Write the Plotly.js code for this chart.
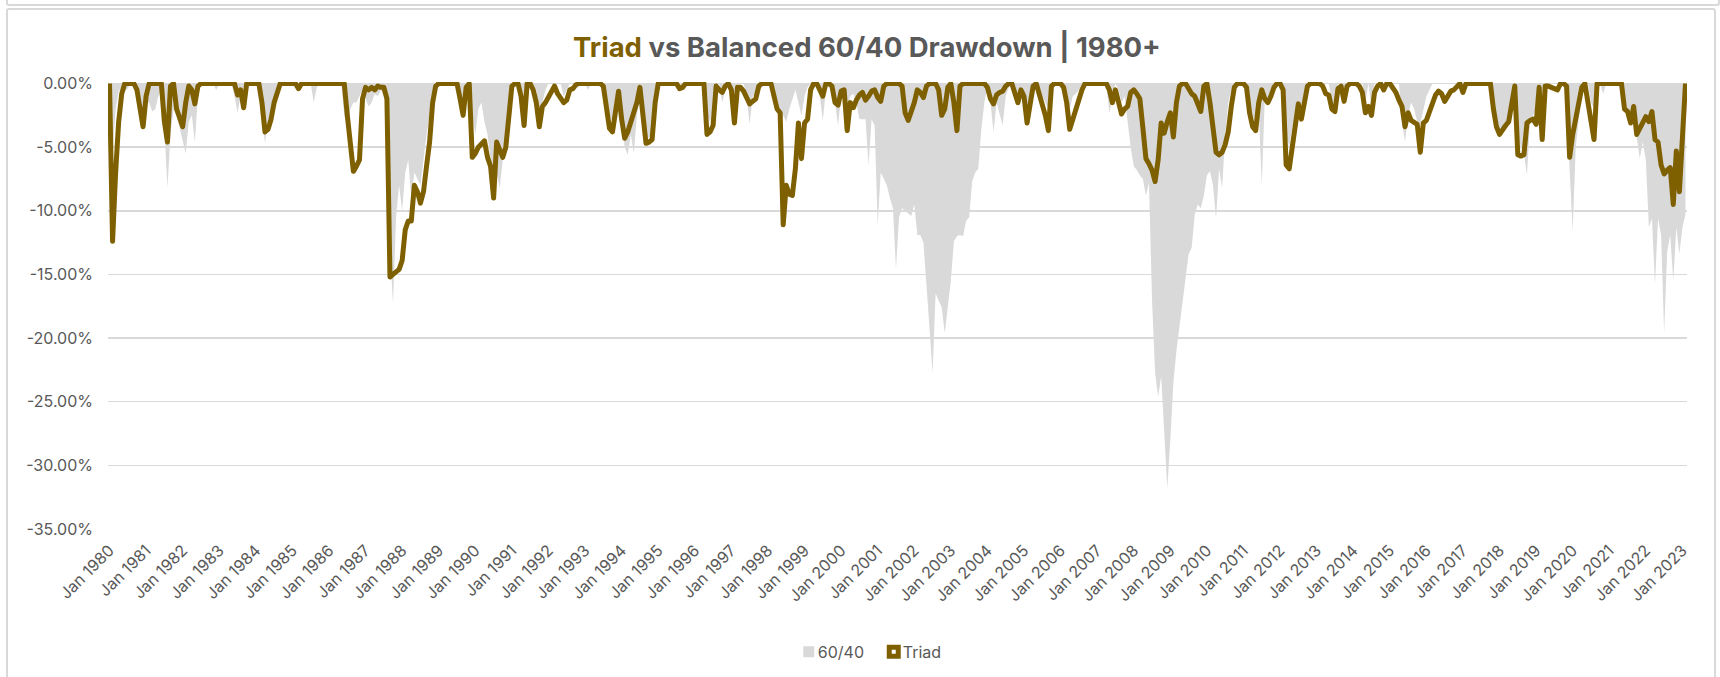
<!DOCTYPE html>
<html>
<head>
<meta charset="utf-8">
<script src="https://cdn.plot.ly/plotly-3.0.1.min.js"></script>
<style>
  html, body { margin: 0; padding: 0; background: #fff; overflow: hidden; }
  #chart { position: absolute; left: 0; top: 0; width: 1720px; height: 677px; }
  .frame { position: absolute; border: 2px solid #d9d9d9; border-radius: 3px; pointer-events: none; z-index: 5; }
  path.js-line { stroke-linejoin: round !important; }
  .legend .legendtext { transform: translate(-11px, 0); }
</style>
</head>
<body>
<div id="chart"></div>
<div class="frame" style="left:6px; top:-20px; width:1710px; height:22px;"></div>
<div class="frame" style="left:6px; top:8px; width:1706px; height:700px;"></div>
<script>
// Monthly drawdown from prior peak, in %, Jan 1980 - Feb 2023
var triad = [
  0, -12.4, -7.0, -3.0, -0.8, 0, 0, 0, 0, -0.5, -2.3, -3.4,          // 1980
  -1.0, 0, 0, 0, 0, 0, -3.0, -4.6, -0.2, 0, -2.0, -2.6,              // 1981
  -3.4, -1.5, -0.2, -0.5, -1.6, -0.2, 0, 0, 0, 0, 0, 0,              // 1982
  0, 0, 0, 0, 0, 0, -0.9, -0.5, -1.9, 0, 0, 0,                        // 1983
  0, 0, -1.5, -3.8, -3.6, -2.8, -1.5, -0.6, 0, 0, 0, 0,              // 1984
  0, 0, -0.4, 0, 0, 0, 0, 0, 0, 0, 0, 0,                              // 1985
  0, 0, 0, 0, 0, 0, -2.5, -4.8, -6.9, -6.5, -6.0, -1.2,              // 1986
  -0.3, -0.5, -0.3, -0.5, -0.2, -0.3, -0.3, -1.2, -15.2, -15.0, -14.8, -14.6, // 1987
  -13.9, -11.5, -10.8, -10.8, -8.0, -8.5, -9.4, -8.5, -6.5, -4.6, -1.5, -0.2, // 1988
  0, 0, 0, 0, 0, 0, 0, -1.2, -2.5, -0.3, 0, -5.8,                    // 1989
  -5.5, -5.0, -4.7, -4.5, -5.8, -6.5, -9.0, -4.6, -5.2, -5.8, -5.0, -2.0, // 1990
  -0.2, 0, 0, -1.0, -3.3, 0, 0, -0.5, -1.5, -3.4, -1.8, -1.5,        // 1991
  -1.0, -0.5, -0.2, -0.8, -1.2, -1.5, -1.3, -0.5, -0.4, -0.1, 0, 0,  // 1992
  0, 0, 0, 0, 0, 0, -0.2, -1.6, -3.5, -3.8, -2.3, -0.6,              // 1993
  -2.8, -4.3, -3.8, -3.0, -2.4, -1.5, -0.3, -2.5, -4.7, -4.6, -4.4, -1.5, // 1994
  0, 0, 0, 0, 0, 0, 0, -0.4, -0.3, 0, 0, 0,                           // 1995
  0, 0, 0, 0, -4.0, -3.8, -3.3, -0.2, -0.5, -0.7, -0.2, 0,           // 1996
  -0.5, -3.1, -0.3, -0.3, -0.6, -1.2, -1.6, -1.4, -1.2, -0.2, 0, 0,  // 1997
  0, 0, -1.0, -2.0, -2.3, -11.1, -8.0, -8.7, -8.8, -6.7, -3.1, -5.9, // 1998
  -3.1, -2.8, -0.5, 0, 0, -0.5, -1.0, 0, 0, -0.2, -1.5, -1.7,        // 1999
  -0.6, -0.5, -3.7, -1.5, -1.9, -1.3, -0.9, -0.7, -1.3, -1.0, -0.6, -0.5, // 2000
  -1.1, -1.4, -0.2, 0, 0, 0, 0, 0, -0.2, -2.3, -2.9, -2.3,           // 2001
  -1.5, -0.5, -0.7, -1.1, -0.2, 0, 0, 0, -0.5, -2.5, -2.0, -0.3,     // 2002
  0, -1.5, -3.7, -0.2, 0, 0, 0, 0, 0, 0, 0, 0,                        // 2003
  -0.3, -1.2, -1.6, -0.9, -0.7, -0.6, -0.2, 0, 0, -0.7, -1.5, -0.5,  // 2004
  -1.0, -3.1, -1.5, -0.2, 0, -0.8, -1.5, -2.5, -3.7, -0.2, 0, 0,     // 2005
  0, -0.3, -1.5, -3.6, -2.8, -2.3, -1.5, -0.5, 0, 0, 0, 0,           // 2006
  0, 0, 0, 0, -0.5, -1.5, -0.5, -1.5, -2.4, -2.0, -1.8, -0.7,        // 2007
  -0.5, -0.8, -1.2, -3.5, -5.9, -6.3, -6.8, -7.7, -6.0, -3.1, -3.9, -3.0, // 2008
  -2.3, -4.2, -1.5, -0.2, 0, 0, -0.5, -0.8, -1.0, -1.5, -2.2, -0.2,  // 2009
  0, -1.5, -3.5, -5.4, -5.6, -5.4, -4.8, -3.8, -1.8, -0.3, 0, 0,     // 2010
  0, -0.3, -2.3, -3.4, -3.7, -1.5, -0.5, -1.2, -1.5, -1.0, -0.3, 0,  // 2011
  0, -0.5, -6.4, -6.7, -5.2, -3.5, -1.6, -2.8, -1.5, -0.2, 0, 0,     // 2012
  0, 0, -0.2, -0.8, -0.9, -2.0, -2.2, -0.4, -0.2, -1.4, -0.2, 0,     // 2013
  0, 0, -0.2, -0.7, -2.3, -1.8, -2.5, -0.7, -0.2, 0, -0.5, 0,        // 2014
  0, -0.3, -0.7, -1.3, -1.8, -3.4, -2.3, -2.9, -3.0, -3.2, -5.4, -3.1, // 2015
  -2.9, -2.2, -1.5, -0.9, -0.6, -0.8, -1.4, -0.9, -0.6, -0.5, -0.2, 0, // 2016
  -0.7, 0, 0, 0, 0, 0, 0, 0, 0, 0, -2.0, -3.4,                       // 2017
  -4.0, -3.6, -3.3, -3.0, -1.8, -0.2, -5.6, -5.7, -5.6, -3.1, -2.9, -2.8, // 2018
  -3.2, -0.3, -4.4, -0.2, -0.2, -0.3, -0.4, -0.5, 0, 0, -0.2, -5.8,  // 2019
  -4.0, -2.8, -1.5, -0.3, 0, -1.5, -3.0, -4.4, 0, 0, 0, 0,           // 2020
  0, 0, 0, 0, 0, -2.0, -2.2, -3.1, -1.8, -4.0, -3.5, -3.0,           // 2021
  -2.6, -3.0, -2.2, -4.4, -4.6, -6.4, -7.1, -6.8, -6.6, -9.5, -5.3, -8.5, // 2022
  -4.8, 0                                                             // 2023
];

var balanced = [
  0, -5.5, -2.0, -0.6, -0.3, -0.6, -0.4, 0, 0, -1.0, -2.0, -3.0,     // 1980
  -1.5, -1.5, -2.2, -2.0, -1.0, -0.5, -3.5, -8.2, -4.0, -2.0, -2.5, -3.5, // 1981
  -4.5, -5.5, -3.0, -2.5, -4.6, -1.0, 0, 0, 0, 0, 0, -0.5,           // 1982
  0, 0, 0, 0, 0, -1.0, -2.3, -1.0, -1.8, -0.3, 0, 0,                 // 1983
  0, -0.8, -2.5, -4.7, -3.0, -2.0, -1.0, -0.3, 0, 0, 0, 0,           // 1984
  0, 0, -0.5, -0.3, 0, 0, 0, -1.5, -0.3, 0, 0, 0,                    // 1985
  0, 0, 0, 0, 0, -2.5, -3.3, -2.0, -1.5, -1.5, -1.0, -0.5,           // 1986
  -1.2, -1.8, -1.5, -0.8, -1.0, -0.5, -1.0, -2.0, -13.0, -17.3, -10.5, -8.0, // 1987
  -10.0, -7.0, -6.0, -9.0, -7.0, -7.5, -8.0, -6.0, -4.0, -2.5, -1.0, 0, // 1988
  0, 0, 0, 0, 0, 0, -0.5, -1.0, -1.5, -0.3, -0.5, -2.5,              // 1989
  -4.0, -2.0, -1.5, -3.0, -4.0, -6.0, -8.0, -7.0, -8.2, -6.0, -4.0, -1.2, // 1990
  -0.3, 0, 0, -0.5, -2.0, 0, 0, 0, -0.5, -2.5, -1.5, -0.5,           // 1991
  0, 0, -0.3, 0, 0, -1.0, -0.5, 0, 0, -0.3, 0, 0,                    // 1992
  0, -0.5, 0, 0, 0, 0, 0, -1.0, -2.5, -3.0, -2.0, -1.0,              // 1993
  -2.5, -5.0, -5.6, -4.0, -5.5, -2.5, -0.8, -2.0, -4.0, -4.3, -3.5, -1.0, // 1994
  0, 0, 0, 0, 0, 0, 0, -0.5, 0, 0, 0, 0,                              // 1995
  0, 0, 0, 0, -2.5, -3.0, -2.0, 0, 0, -1.5, -0.5, 0,                 // 1996
  0, -2.0, 0, 0, 0, -1.0, -3.2, -1.0, -0.8, 0, 0, 0,                 // 1997
  0, 0, -0.8, -2.0, -3.2, -2.5, -3.0, -2.0, -1.2, -0.5, -1.5, -2.5,  // 1998
  -1.0, -0.3, 0, 0, 0, -1.0, -2.9, -0.5, 0, -0.5, -1.5, -3.3,        // 1999
  -1.0, -0.5, -2.0, -1.0, -0.8, -1.5, -2.8, -2.8, -2.8, -6.4, -2.8, -3.3, // 2000
  -11.1, -7.0, -7.5, -8.0, -9.0, -9.8, -14.6, -10.5, -9.8, -10.0, -10.2, -10.4, // 2001
  -9.5, -11.9, -11.9, -12.5, -15.8, -18.9, -22.7, -16.5, -17.0, -17.6, -19.6, -17.6, // 2002
  -15.5, -12.4, -12.0, -11.9, -12.0, -10.8, -10.5, -7.7, -7.0, -6.7, -3.6, -1.5, // 2003
  -0.2, -1.5, -3.8, -1.5, -2.5, -3.3, -1.0, -0.3, 0, -0.5, -1.0, -0.3, // 2004
  -1.0, -2.0, -0.8, 0, 0, -0.5, -1.0, -1.5, -2.0, -0.3, 0, 0,        // 2005
  0, 0, -1.0, -2.0, -1.0, -0.8, -0.5, 0, 0, 0, 0, 0,                 // 2006
  0, 0, 0, 0, -2.3, -1.0, 0, -0.5, -1.5, -1.0, -3.1, -5.0,           // 2007
  -6.5, -6.8, -7.2, -7.5, -8.8, -7.8, -17.0, -22.7, -24.6, -23.0, -27.4, -31.8, // 2008
  -28.0, -23.5, -21.0, -19.0, -17.0, -15.0, -13.4, -12.9, -10.3, -9.5, -9.8, -8.8, // 2009
  -7.2, -6.9, -8.0, -10.6, -6.7, -8.2, -4.1, -1.5, -0.5, 0, 0, 0,    // 2010
  0, 0, -1.5, -2.5, -3.0, -2.0, -8.0, -1.0, -1.5, -0.5, 0, 0,        // 2011
  0, 0, -4.0, -5.0, -3.5, -2.5, -2.0, -2.5, -2.0, -0.5, 0, 0,        // 2012
  0, 0, 0, 0, 0, -1.5, -1.5, 0, 0, -1.0, 0, 0,                       // 2013
  0, 0, 0, 0, -1.5, 0, -2.0, 0, 0, 0, -0.5, 0,                       // 2014
  0, 0, 0, 0, -3.0, -4.6, -2.5, -1.5, -2.0, -3.0, -3.2, -2.0,        // 2015
  -1.0, -0.5, 0, 0, 0, 0, 0, 0, 0, 0, 0, 0,                          // 2016
  0, 0, 0, 0, 0, 0, 0, 0, 0, 0, -2.5, -3.5,                          // 2017
  -3.8, -3.5, -3.5, -3.3, -2.0, -0.5, -4.0, -5.0, -5.5, -7.2, -3.0, -2.5, // 2018
  -2.0, -0.5, -1.5, 0, 0, 0, 0, 0, 0, 0, -2.0, -7.0,                 // 2019
  -11.6, -5.0, -2.5, -0.5, 0, 0, -1.5, -2.0, -0.3, 0, -0.8, 0,       // 2020
  0, 0, 0, 0, -0.5, -1.5, -2.8, -2.0, -2.5, -4.1, -5.9, -4.6,        // 2021
  -6.0, -11.3, -10.6, -15.8, -10.6, -11.9, -19.6, -13.2, -11.9, -15.5, -11.3, -13.4, // 2022
  -11.3, -10.3                                                        // 2023
];

var monthNames = ["Jan", "Feb", "Mar", "Apr", "May", "Jun", "Jul", "Aug", "Sep", "Oct", "Nov", "Dec"];
var firstYear = 1980;
var yTicks = [0, -5, -10, -15, -20, -25, -30, -35];

// category labels, one per month
var months = [];
for (var i = 0; i < triad.length; i++) {
  months.push(monthNames[i % 12] + " " + (firstYear + Math.floor(i / 12)));
}
var yearTicks = months.filter(m => m.startsWith("Jan"));

var grey = "#d9d9d9";
var gold = "#7f6000";
var textGrey = "#595959";

var balancedTrace = {
  x: months,
  y: balanced,
  type: "scatter",
  mode: "lines",
  fill: "tozeroy",
  fillcolor: grey,
  line: {width: 0, color: grey},
  showlegend: false,
  hoverinfo: "skip"
};

var triadTrace = {
  x: months,
  y: triad,
  type: "scatter",
  mode: "lines",
  line: {color: gold, width: 5},
  showlegend: false
};

// legend swatches only
var balancedKey = {
  x: [null], y: [null], type: "scatter", mode: "markers", name: "60/40",
  marker: {symbol: "square", size: 11, color: grey}
};
var triadKey = {
  x: [null], y: [null], type: "scatter", mode: "markers", name: "Triad",
  marker: {symbol: "square", size: 9, color: "#ffffff", line: {color: gold, width: 5}}
};

var layout = {
  width: 1720,
  height: 677,
  margin: {l: 108, r: 33, t: 82, b: 148},
  paper_bgcolor: "#ffffff",
  plot_bgcolor: "#ffffff",
  title: {
    text: '<b><span style="color:' + gold + '">Triad</span> vs Balanced 60/40 Drawdown | 1980+</b>',
    font: {family: "Inter", size: 27.5, color: textGrey},
    xref: "container", x: 0.504, xanchor: "center",
    yref: "container", y: 0.93, yanchor: "middle"
  },
  xaxis: {
    type: "category",
    range: [-0.5, triad.length - 0.5],
    tickvals: yearTicks,
    ticktext: yearTicks,
    tickangle: -45,
    tickfont: {family: "Inter", size: 16, color: textGrey},
    showgrid: false,
    showline: false,
    zeroline: false,
    ticks: "",
    ticklabelstandoff: 8
  },
  yaxis: {
    range: [-35, 0.12],
    tickvals: yTicks,
    ticktext: yTicks.map(v => v.toFixed(2) + "%"),
    tickfont: {family: "Inter", size: 16, color: textGrey},
    gridcolor: grey,
    gridwidth: 1.5,
    zeroline: false,
    showline: false,
    ticklabelstandoff: 14
  },
  legend: {
    orientation: "h",
    xref: "container", x: 0.508, xanchor: "center",
    yref: "container", y: 0.037, yanchor: "middle",
    font: {family: "Inter", size: 16, color: textGrey},
    itemwidth: 30,
    entrywidth: 40,
    traceorder: "normal"
  },
  showlegend: true
};

Plotly.newPlot("chart", [balancedTrace, triadTrace, balancedKey, triadKey], layout, {displayModeBar: false, staticPlot: true});
</script>
</body>
</html>
